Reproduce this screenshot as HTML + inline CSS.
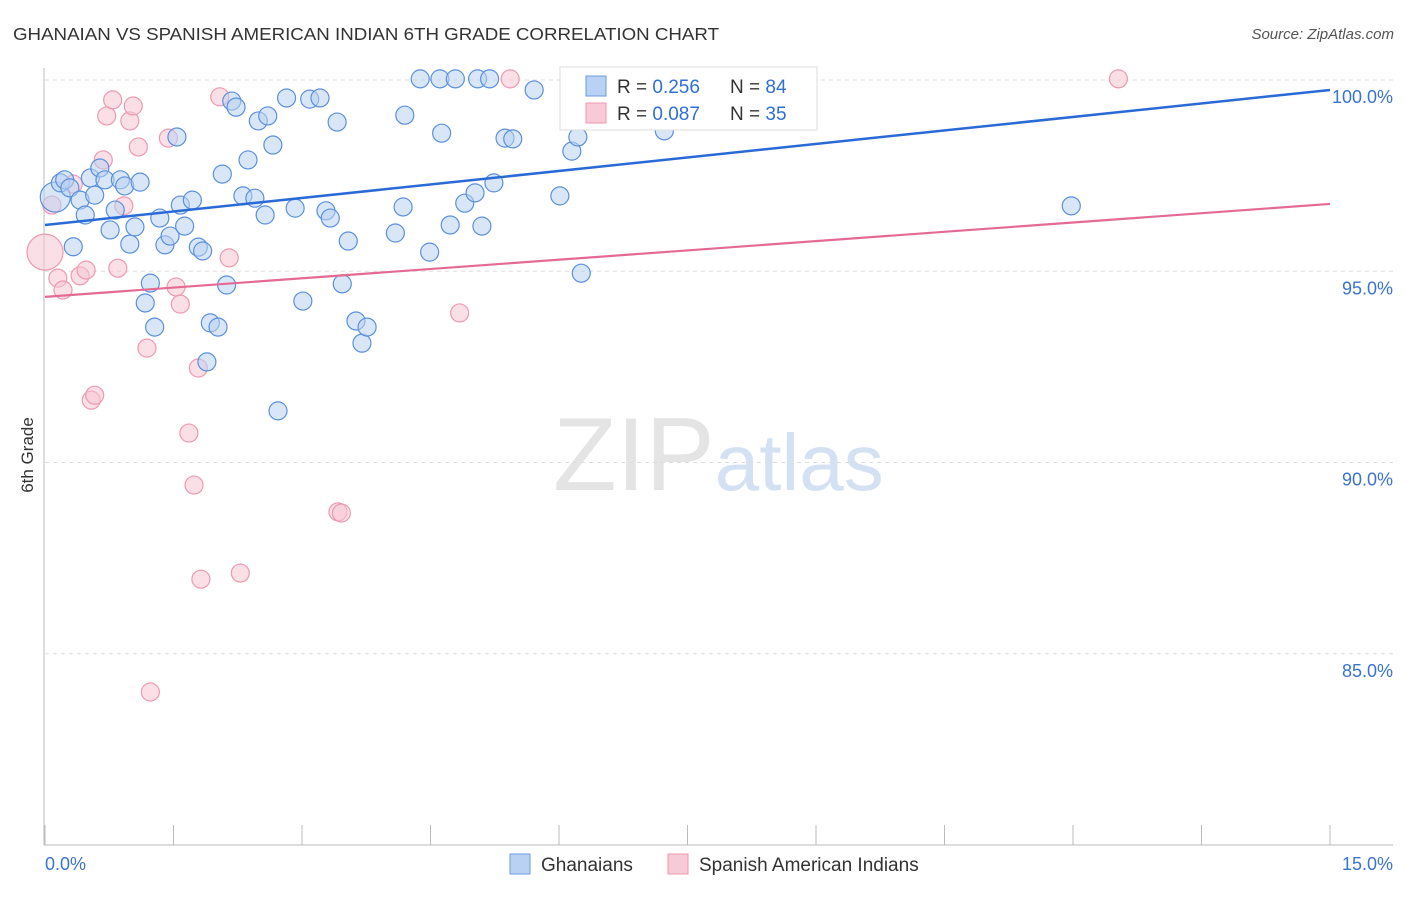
<!DOCTYPE html>
<html><head><meta charset="utf-8"><style>
body{margin:0;background:#fff;width:1406px;height:892px;overflow:hidden;font-family:"Liberation Sans",sans-serif}
svg text{font-family:"Liberation Sans",sans-serif}
</style></head><body>
<svg id="chart" width="1406" height="892" xmlns="http://www.w3.org/2000/svg">
<text x="13" y="40" font-size="17.5" fill="#333" textLength="706" lengthAdjust="spacingAndGlyphs">GHANAIAN VS SPANISH AMERICAN INDIAN 6TH GRADE CORRELATION CHART</text>
<text x="1394" y="39" font-size="15" fill="#555" text-anchor="end" font-style="italic">Source: ZipAtlas.com</text>
<text x="553" y="490" font-size="104" fill="#e4e4e4" font-family="Liberation Serif">ZIP<tspan fill="#d3e1f3" font-family="Liberation Sans" font-size="80">atlas</tspan></text>
<g id="grid"></g><g id="axes"></g><g id="marks"></g>
<text transform="translate(33,455) rotate(-90)" font-size="17" fill="#333" text-anchor="middle">6th Grade</text>
<g>
<rect x="560" y="67" width="257" height="63" fill="#fff" stroke="#ddd"/>
<rect x="586" y="76" width="20" height="20" fill="#b9d2f3" stroke="#6b9ee0"/>
<text x="617" y="93" font-size="19" fill="#333">R = <tspan fill="#2f6fd6">0.256</tspan></text>
<text x="730" y="93" font-size="19" fill="#333">N = <tspan fill="#2f6fd6">84</tspan></text>
<rect x="586" y="103" width="20" height="20" fill="#f8c9d6" stroke="#ec9ab2"/>
<text x="617" y="120" font-size="19" fill="#333">R = <tspan fill="#2f6fd6">0.087</tspan></text>
<text x="730" y="120" font-size="19" fill="#333">N = <tspan fill="#2f6fd6">35</tspan></text>
</g>
<g>
<rect x="510" y="854" width="20" height="20" fill="#b9d2f3" stroke="#6b9ee0"/>
<text x="541" y="871" font-size="19" fill="#333">Ghanaians</text>
<rect x="668" y="854" width="20" height="20" fill="#f8c9d6" stroke="#ec9ab2"/>
<text x="699" y="871" font-size="19" fill="#333">Spanish American Indians</text>
</g>
</svg>
<script>
const blueX=[.12,.18,.23,.29,.33,.41,.47,.53,.58,.64,.70,.76,.82,.88,.93,.99,1.05,1.11,1.17,1.23,1.28,1.34,1.40,1.46,1.54,1.58,1.63,1.72,1.79,1.84,1.89,1.93,2.02,2.07,2.12,2.18,2.23,2.31,2.37,2.45,2.49,2.57,2.60,2.66,2.72,2.82,2.92,3.01,3.09,3.21,3.28,3.33,3.41,3.47,3.54,3.63,3.70,3.76,4.09,4.18,4.20,4.38,4.49,4.61,4.63,4.73,4.79,4.90,5.02,5.05,5.10,5.19,5.24,5.37,5.46,5.71,6.01,6.15,6.22,6.26,6.92,7.23,11.98];
const blueY=[96.94,97.31,97.39,97.18,95.64,96.86,96.47,97.44,96.99,97.70,97.39,96.08,96.60,97.39,97.23,95.71,96.16,97.33,94.17,94.69,93.54,96.39,95.69,95.92,98.51,96.73,96.18,96.86,95.63,95.53,92.63,93.65,93.54,97.54,94.64,99.45,99.29,96.97,97.91,96.91,98.93,96.47,99.06,98.30,91.35,99.53,96.65,94.22,99.50,99.53,96.58,96.39,98.90,94.67,95.79,93.70,93.12,93.54,96.00,96.68,99.08,100.03,95.50,100.03,98.61,96.21,100.03,96.78,97.05,100.03,96.18,100.03,97.31,98.48,98.46,99.74,96.97,98.14,98.51,94.95,100.03,98.67,96.71];
const pinkX=[0,.08,.15,.21,.33,.41,.48,.54,.58,.68,.72,.79,.85,.92,.99,1.03,1.09,1.19,1.23,1.44,1.53,1.58,1.68,1.74,1.79,1.82,2.04,2.15,2.28,3.42,3.46,4.84,5.43,12.53];
const pinkY=[95.50,96.73,94.82,94.51,97.28,94.88,95.03,91.63,91.76,97.91,99.06,99.48,95.08,96.71,98.93,99.32,98.25,92.99,84.00,98.48,94.59,94.14,90.77,89.41,92.47,86.95,99.56,95.35,87.11,88.71,88.68,93.91,100.03,100.03];
const blueTrend=[96.21,99.74];
const pinkTrend=[94.33,96.76];
const yTicks=[100,95,90,85];
const yTickLabels=["100.0%","95.0%","90.0%","85.0%"];
const xTickLabels=["0.0%","15.0%"];
const X=v=>45+v/15*1285, Y=v=>80+(100-v)*38.25;
const NS="http://www.w3.org/2000/svg";
function mk(p,t,a){const e=document.createElementNS(NS,t);for(const k in a)e.setAttribute(k,a[k]);p.appendChild(e);return e;}
const grid=document.getElementById('grid'),axes=document.getElementById('axes'),marks=document.getElementById('marks');
yTicks.forEach((v,i)=>{
 const l=mk(grid,'line',{x1:45,x2:1393,y1:Y(v),y2:Y(v),stroke:'#ddd','stroke-dasharray':'4,4'});
 
 
 const t=mk(axes,'text',{x:1393,y:Y(v)+23,'font-size':18,fill:'#3a73d0','text-anchor':'end'});t.textContent=yTickLabels[i];
 
 
});
const ax=mk(axes,'line',{x1:44,x2:44,y1:68,y2:845,stroke:'#bbb'});


const bx=mk(axes,'line',{x1:44,x2:1393,y1:845,y2:845,stroke:'#bbb'});


for(let i=0;i<=10;i++){const xv=i*1.5;const t=mk(axes,'line',{x1:X(xv),x2:X(xv),y1:825,y2:845,stroke:'#bbb'});
 
 }
[[0,'start',45],[15,'end',1393]].forEach((d,i)=>{const t=mk(axes,'text',{x:d[2],y:870,'font-size':18,fill:'#3a73d0','text-anchor':d[1]});t.textContent=xTickLabels[i];
 
 });
function dots(xs,ys,fill,stroke,name,bigIdx,bigR){xs.forEach((x,i)=>{const c=mk(marks,'circle',{cx:X(x),cy:Y(ys[i]),r:i===bigIdx?bigR:9,fill:fill,'fill-opacity':0.55,stroke:stroke,'stroke-width':1.2});
 
 });}
dots(pinkX,pinkY,'#f8c4d3','#ec9ab2','spanish-point',0,18);
dots(blueX,blueY,'#b9d2f3','#5b90dc','ghanaian-point',0,15);
const bt=mk(marks,'line',{x1:X(0),x2:X(15),y1:Y(blueTrend[0]),y2:Y(blueTrend[1]),stroke:'#2a6ad6','stroke-width':2.5});


const pt=mk(marks,'line',{x1:X(0),x2:X(15),y1:Y(pinkTrend[0]),y2:Y(pinkTrend[1]),stroke:'#e56a93','stroke-width':2.2});


</script>
</body></html>
